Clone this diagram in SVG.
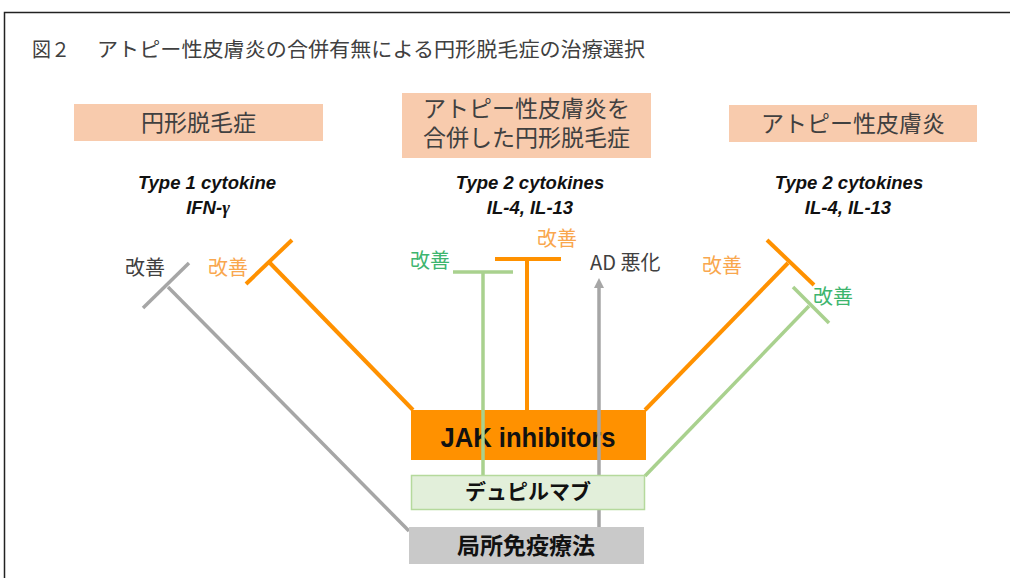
<svg xmlns="http://www.w3.org/2000/svg" width="1010" height="578" viewBox="0 0 1010 578">
<defs>
<style>
.jp{font-family:"Noto Sans CJK JP","Noto Sans",sans-serif}
.title{font-size:20px;fill:#404040}
.pink{fill:#F8CBAD}
.ptxt{font-size:23px;fill:#404040;text-anchor:middle}
.cyto{font-family:"Liberation Sans",Arial,sans-serif;font-weight:bold;font-style:italic;font-size:18.5px;fill:#111;text-anchor:middle}
.lbl{font-size:20px}
.gr{fill:#404040}
.or{fill:#F9A74E}
.gn{fill:#3DB56E}
.lgray{stroke:#A6A6A6;stroke-width:3.5;fill:none}
.lor{stroke:#FF9100;stroke-width:4;fill:none}
.lgn{stroke:#A9D18E;stroke-width:3.5;fill:none}
</style>
<marker id="arr" markerWidth="10" markerHeight="10" refX="5" refY="5" orient="auto" markerUnits="userSpaceOnUse">
<path d="M0,0 L10,5 L0,10 Z" fill="#A6A6A6"/>
</marker>
</defs>
<rect width="1010" height="578" fill="#fff"/>
<rect x="4.5" y="12.5" width="1030" height="600" fill="none" stroke="#222" stroke-width="1.5"/>
<g id="title">
<text class="jp title" x="32" y="57" textLength="38" lengthAdjust="spacingAndGlyphs">図２</text>
<text class="jp title" x="97" y="57" textLength="548" lengthAdjust="spacingAndGlyphs">アトピー性皮膚炎の合併有無による円形脱毛症の治療選択</text>
</g>
<g id="head-aa">
<rect class="pink" x="74" y="104" width="249" height="37"/>
<text class="jp ptxt" x="198.5" y="131">円形脱毛症</text>
</g>
<g id="head-ad-aa">
<rect class="pink" x="402" y="93" width="249" height="65"/>
<text class="jp ptxt" x="526.5" y="117"><tspan x="526.5" y="117">アトピー性皮膚炎を</tspan><tspan x="526.5" y="146">合併した円形脱毛症</tspan></text>
</g>
<g id="head-ad">
<rect class="pink" x="729" y="105" width="248" height="37"/>
<text class="jp ptxt" x="853" y="132">アトピー性皮膚炎</text>
</g>
<g id="cyto-left">
<text class="cyto" x="207" y="189">Type 1 cytokine</text>
<text class="cyto" x="208" y="214">IFN-<tspan font-family="'Liberation Serif',serif">γ</tspan></text>
</g>
<g id="cyto-mid">
<text class="cyto" x="530" y="189">Type 2 cytokines</text>
<text class="cyto" x="530" y="214">IL-4, IL-13</text>
</g>
<g id="cyto-right">
<text class="cyto" x="849" y="189">Type 2 cytokines</text>
<text class="cyto" x="848" y="214">IL-4, IL-13</text>
</g>
<g id="labels">
<text class="jp lbl gr" x="125" y="275">改善</text>
<text class="jp lbl or" x="208" y="275">改善</text>
<text class="jp lbl gn" x="410" y="268">改善</text>
<text class="jp lbl or" x="537" y="246">改善</text>
<text class="jp lbl gr" x="590" y="270">AD 悪化</text>
<text class="jp lbl or" x="702" y="273">改善</text>
<text class="jp lbl gn" x="813" y="304">改善</text>
</g>
<g id="jak">
<rect x="411" y="410" width="235" height="50" fill="#FF9100"/>
<text x="528" y="447" text-anchor="middle" font-family="'Liberation Sans',Arial,sans-serif" font-weight="bold" font-size="28" fill="#111" textLength="175" lengthAdjust="spacingAndGlyphs">JAK inhibitors</text>
</g>
<g id="connectors">
<path class="lgray" d="M409,531 L168,287"/>
<path class="lgray" d="M143,308 L189,263"/>
<path class="lor" d="M413,410 L269,262"/>
<path class="lor" d="M246,284 L292,240"/>
<path class="lgn" d="M483,475 L483,272"/>
<path class="lgn" d="M453,272 L513,272"/>
<path class="lor" d="M527,410 L527,259"/>
<path class="lor" d="M495,259 L561,259"/>
<path class="lgray" d="M599,527 L599,283" marker-end="url(#arr)"/>
<path class="lor" d="M645,410 L788,263"/>
<path class="lor" d="M767,240 L814,285"/>
<path class="lgn" d="M645,476 L809,306"/>
<path class="lgn" d="M793,287 L829,323"/>
</g>
<g id="dupilumab">
<rect x="411.5" y="475.5" width="233" height="34" fill="#E2EFDA" stroke="#B5D99C" stroke-width="1.5"/>
<text class="jp" x="528" y="499" text-anchor="middle" font-size="21" font-weight="bold" fill="#111">デュピルマブ</text>
</g>
<g id="topical">
<rect x="409" y="527" width="235" height="37" fill="#C9C9C9"/>
<text class="jp" x="526" y="554" text-anchor="middle" font-size="23" font-weight="bold" fill="#111">局所免疫療法</text>
</g>
</svg>
